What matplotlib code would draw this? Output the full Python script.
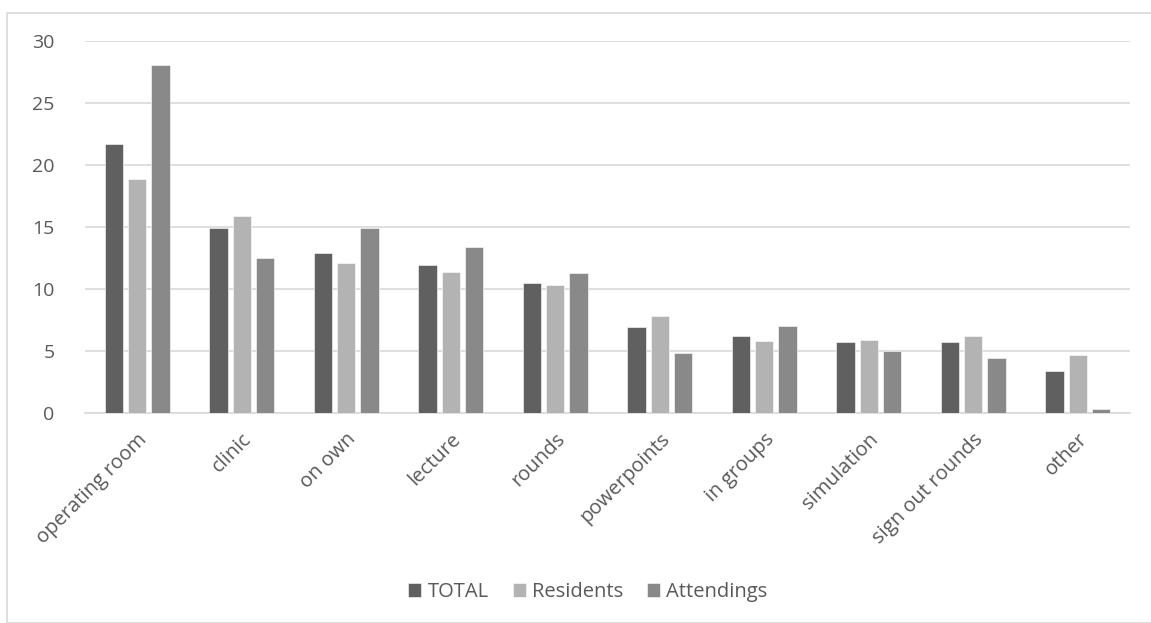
import numpy as np
import matplotlib.pyplot as plt
from matplotlib.patches import Rectangle

categories = ["operating room", "clinic", "on own", "lecture", "rounds",
              "powerpoints", "in groups", "simulation", "sign out rounds", "other"]
total = [21.7, 14.9, 12.9, 11.9, 10.5, 6.9, 6.2, 5.7, 5.7, 3.4]
residents = [18.9, 15.9, 12.1, 11.4, 10.3, 7.8, 5.8, 5.9, 6.2, 4.7]
attendings = [28.1, 12.5, 14.9, 13.4, 11.3, 4.8, 7.0, 5.0, 4.4, 0.3]

series = [("TOTAL", total, "#606060"),
          ("Residents", residents, "#b3b3b3"),
          ("Attendings", attendings, "#898989")]

plt.rcParams['font.family'] = ['Open Sans', 'DejaVu Sans']
txt = "#595959"

fig = plt.figure(figsize=(11.51, 6.23), dpi=100)
# outer chart border
fig.patches.append(Rectangle((7/1151, 0), 1.2, 1 - 13/623, transform=fig.transFigure,
                             fill=False, edgecolor="#d9d9d9", lw=1.2))

ax = fig.add_axes([85/1151, 210.3/623, 1045/1151, 371.4/623])
x = np.arange(len(categories))
w = 0.175
step = 0.223
for i, (name, vals, col) in enumerate(series):
    ax.bar(x + (i - 1) * step, vals, w, color=col, label=name,
           edgecolor="white", linewidth=0.4, zorder=3)

ax.set_xlim(-0.5, len(categories) - 0.5)
ax.set_ylim(0, 30)
ax.set_yticks(range(0, 31, 5))
ax.grid(axis="y", color="#d9d9d9", lw=1.2, zorder=0)
for s in ["top", "right", "left"]:
    ax.spines[s].set_visible(False)
ax.spines["bottom"].set_color("#d9d9d9")
ax.spines["bottom"].set_linewidth(1.2)
ax.tick_params(axis="y", length=0, pad=22, labelsize=14, labelcolor=txt)
ax.tick_params(axis="x", length=0, pad=12, labelsize=14.5, labelcolor=txt)
ax.set_xticks(x)
ax.set_xticklabels(categories, rotation=45, ha="right", rotation_mode="anchor")

fig.legend(loc="center", bbox_to_anchor=(588/1151, 1 - 592/623), ncol=3, frameon=False,
           fontsize=14.5, labelcolor=txt, handlelength=0.65, handleheight=0.65,
           handletextpad=0.3, columnspacing=1.2)

fig.savefig("out.png", dpi=100)
